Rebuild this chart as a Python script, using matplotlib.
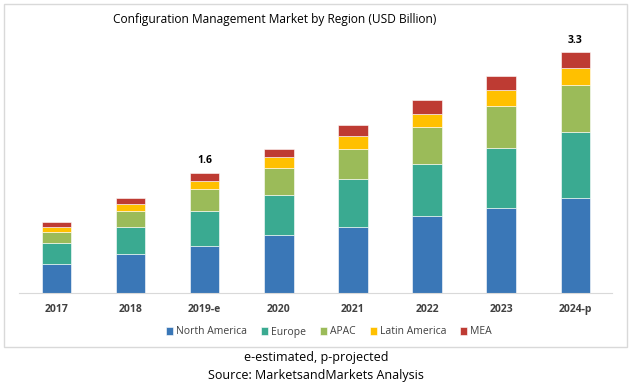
import matplotlib.pyplot as plt
import numpy as np
from matplotlib.patches import Rectangle

plt.rcParams['font.family'] = ['Open Sans', 'DejaVu Sans']

years = ['2017', '2018', '2019-e', '2020', '2021', '2022', '2023', '2024-p']
regions = ['North America', 'Europe', 'APAC', 'Latin America', 'MEA']
north_america = [0.40, 0.53, 0.65, 0.79, 0.91, 1.05, 1.17, 1.30]
europe = [0.28, 0.37, 0.47, 0.55, 0.65, 0.72, 0.82, 0.91]
apac = [0.16, 0.22, 0.30, 0.37, 0.42, 0.51, 0.57, 0.64]
latin_america = [0.064, 0.10, 0.12, 0.15, 0.17, 0.18, 0.22, 0.24]
mea = [0.07, 0.08, 0.11, 0.12, 0.15, 0.18, 0.19, 0.21]
top_labels = {'2019-e': '1.6', '2024-p': '3.3'}

colors = ['#3A77B7', '#3AAA91', '#9BBB59', '#FFC000', '#BE3B33']

fig = plt.figure(figsize=(6.32, 3.88), dpi=100)
ax = fig.add_axes([0.0305, 0.2448, 0.9385, 0.6652])

# marco exterior gris claro
fig.patches.append(Rectangle((4 / 632, 1 - 347 / 388), 623 / 632, 343 / 388,
                             transform=fig.transFigure, fill=False,
                             edgecolor='#D9D9D9', lw=1))

x = np.arange(len(years))
series = [north_america, europe, apac, latin_america, mea]
bottom = np.zeros(len(years))
for vals, col, name in zip(series, colors, regions):
    ax.bar(x, vals, bottom=bottom, width=0.4, color=col, label=name,
           edgecolor='white', linewidth=0.4)
    bottom += np.array(vals)

for i, y in enumerate(years):
    if y in top_labels:
        ax.text(x[i], bottom[i] + 0.09, top_labels[y], ha='center', va='bottom',
                fontsize=7.5, fontweight='bold', color='black')

ax.set_xlim(-0.5, len(years) - 0.5)
ax.set_ylim(0, 3.539)
ax.set_yticks([])
for s in ['top', 'right', 'left']:
    ax.spines[s].set_visible(False)
ax.spines['bottom'].set_color('#D9D9D9')
ax.set_xticks(x)
ax.set_xticklabels(years, fontsize=7.5, fontweight='bold', color='#404040')
ax.tick_params(axis='x', length=0, pad=8)

ax.legend(loc='center', bbox_to_anchor=(329 / 632, 1 - 332 / 388),
          bbox_transform=fig.transFigure, ncol=5, frameon=False,
          fontsize=7.5, handlelength=0.7, handleheight=0.7, handletextpad=0.3,
          columnspacing=1.3, labelcolor='#404040')

fig.text(275 / 632, 1 - 20 / 388, 'Configuration Management Market by Region (USD Billion)',
         ha='center', va='center', fontsize=8.6, color='black')
fig.text(0.5, 1 - 357 / 388, 'e-estimated, p-projected', ha='center', va='center',
         fontsize=9, color='black')
fig.text(0.5, 1 - 375 / 388, 'Source: MarketsandMarkets Analysis', ha='center',
         va='center', fontsize=9, color='black')

fig.savefig('out.png', dpi=100)
